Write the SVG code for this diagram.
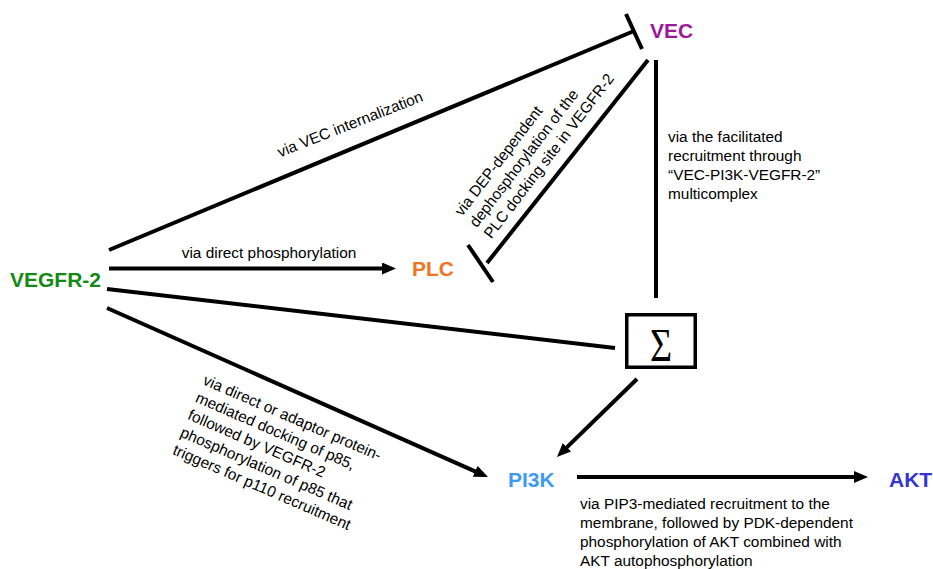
<svg xmlns="http://www.w3.org/2000/svg" width="933" height="569" viewBox="0 0 933 569">
<style>
.node{font-family:"Liberation Sans",Arial,sans-serif;font-weight:bold;font-size:21px}
.lbl{font-family:"Liberation Sans",Arial,sans-serif;font-size:15.4px;fill:#000}
.ln{stroke:#000;stroke-width:4;fill:none}
.arr{stroke:#000;stroke-width:4;fill:none;marker-end:url(#ah)}
</style>
<defs>
<marker id="ah" markerUnits="userSpaceOnUse" markerWidth="15" markerHeight="13" refX="6" refY="6" orient="auto" viewBox="0 0 15 13">
<path d="M0,0 L14,6 L0,12 z" fill="#000"/>
</marker>
</defs>
<rect width="933" height="569" fill="#fff"/>
<g id="connectors">
<line class="ln" x1="109" y1="250" x2="634" y2="31"/>
<line class="ln" x1="626" y1="14" x2="642" y2="49"/>
<line class="ln" x1="648" y1="60" x2="487" y2="263"/>
<line class="ln" x1="468" y1="245" x2="493" y2="282"/>
<line class="ln" x1="656" y1="60" x2="656" y2="298"/>
<line class="ln" x1="107" y1="289" x2="615" y2="348"/>
<line class="arr" x1="109" y1="268.5" x2="388" y2="268.5"/>
<line class="arr" x1="107" y1="308" x2="480.7" y2="473.8"/>
<line class="arr" x1="637" y1="379" x2="562.7" y2="451.4"/>
<line class="arr" x1="577" y1="477" x2="860" y2="477"/>
</g>
<g id="labels">
<text class="lbl" text-anchor="middle" transform="translate(352,129) rotate(-21.5)">via VEC internalization</text>
<text class="lbl" x="269" y="258" text-anchor="middle">via direct phosphorylation</text>
<text class="lbl" transform="translate(462,217) rotate(-52.5)"><tspan x="0" y="0">via DEP-dependent</tspan><tspan x="0" y="18.5">dephosphorylation of the</tspan><tspan x="0" y="37">PLC docking site in VEGFR-2</tspan></text>
<text class="lbl"><tspan x="668" y="142">via the facilitated</tspan><tspan x="668" y="161">recruitment through</tspan><tspan x="668" y="180">“VEC-PI3K-VEGFR-2”</tspan><tspan x="668" y="199">multicomplex</tspan></text>
<text class="lbl" transform="translate(202,384) rotate(23.5)"><tspan x="0" y="0">via direct or adaptor protein-</tspan><tspan x="0" y="19">mediated docking of p85,</tspan><tspan x="0" y="38">followed by VEGFR-2</tspan><tspan x="0" y="57">phosphorylation of p85 that</tspan><tspan x="0" y="76">triggers for p110 recruitment</tspan></text>
<text class="lbl"><tspan x="580" y="509">via PIP3-mediated recruitment to the</tspan><tspan x="580" y="528">membrane, followed by PDK-dependent</tspan><tspan x="580" y="547">phosphorylation of AKT combined with</tspan><tspan x="580" y="566">AKT autophosphorylation</tspan></text>
</g>
<g id="node-vegfr2"><text class="node" x="10" y="287" fill="#138a13">VEGFR-2</text></g>
<g id="node-vec"><text class="node" x="650" y="38" fill="#9a1a9a">VEC</text></g>
<g id="node-plc"><text class="node" x="412" y="276" fill="#f47321">PLC</text></g>
<g id="node-sigma">
<rect x="626.75" y="314.75" width="68.5" height="52.5" fill="#fff" stroke="#000" stroke-width="3.5"/>
<text transform="translate(661,361) scale(1,1.23)" text-anchor="middle" font-family="'Liberation Serif','Times New Roman',serif" font-size="38">Σ</text>
</g>
<g id="node-pi3k"><text class="node" x="508" y="487" fill="#3d9bf2">PI3K</text></g>
<g id="node-akt"><text class="node" x="889" y="487" fill="#3636cf">AKT</text></g>
</svg>
